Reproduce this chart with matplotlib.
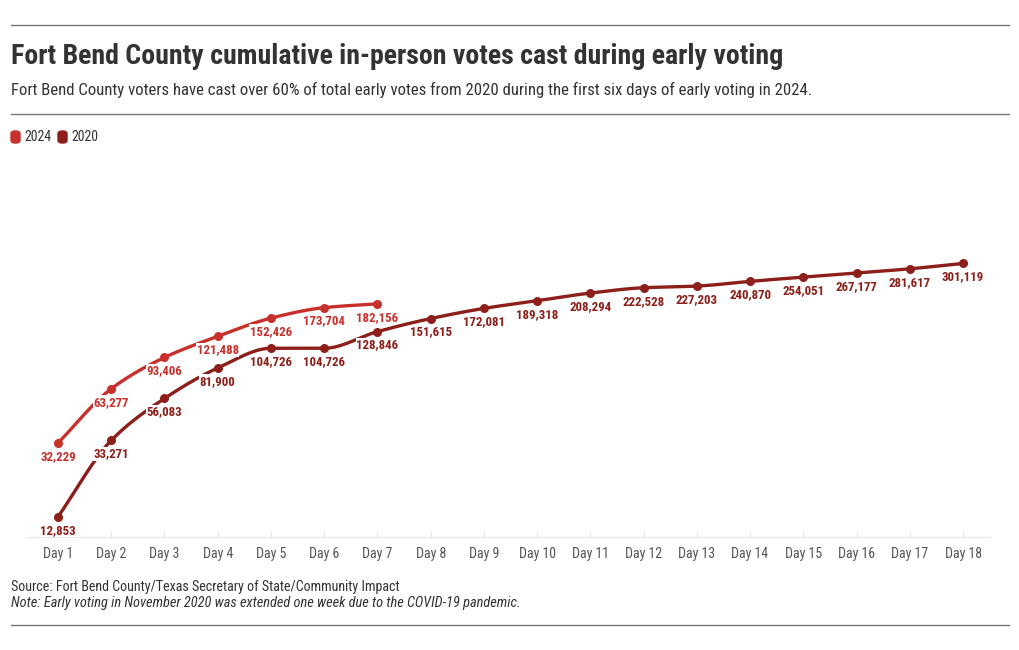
import matplotlib
matplotlib.use('Agg')
import matplotlib.pyplot as plt
from matplotlib import font_manager
from matplotlib.patches import FancyBboxPatch
import numpy as np

days_2024 = [1, 2, 3, 4, 5, 6, 7]
votes_2024 = [32229, 63277, 93406, 121488, 152426, 173704, 182156]
days_2020 = list(range(1, 19))
votes_2020 = [12853, 33271, 56083, 81900, 104726, 104726, 128846, 151615, 172081,
              189318, 208294, 222528, 227203, 240870, 254051, 267177, 281617, 301119]
day_labels = ['Day %d' % d for d in days_2020]

c2024 = '#c8302c'
c2020 = '#8c1f1a'

# pick a condensed face if we have one
names = set(f.name for f in font_manager.fontManager.ttflist)
font = 'DejaVu Sans'
for cand in ['Roboto Condensed', 'Liberation Sans Narrow', 'Roboto']:
    if cand in names:
        font = cand
        break
plt.rcParams['font.family'] = [font, 'DejaVu Sans']


def smooth(x, y, n=20):
    # monotone cubic (Fritsch-Carlson) in log space, only for drawing the curve
    x = np.asarray(x, float)
    y = np.log10(np.asarray(y, float))
    h = np.diff(x)
    d = np.diff(y) / h
    m = np.zeros_like(y)
    m[0], m[-1] = d[0], d[-1]
    for i in range(1, len(y) - 1):
        if d[i - 1] * d[i] <= 0:
            m[i] = 0
        else:
            m[i] = 2 / (1 / d[i - 1] + 1 / d[i])
    xs, ys = [], []
    for i in range(len(x) - 1):
        t = np.linspace(0, 1, n)
        h00 = 2 * t**3 - 3 * t**2 + 1
        h10 = t**3 - 2 * t**2 + t
        h01 = -2 * t**3 + 3 * t**2
        h11 = t**3 - t**2
        seg = h00 * y[i] + h10 * h[i] * m[i] + h01 * y[i + 1] + h11 * h[i] * m[i + 1]
        xs.extend(x[i] + t * h[i])
        ys.extend(seg)
    return np.array(xs), 10 ** np.array(ys)


fig = plt.figure(figsize=(10.2, 6.5), dpi=100)
ax = fig.add_axes([27 / 1020, 113 / 650, 963 / 1020, 370 / 650])

for days, votes, col in [(days_2020, votes_2020, c2020), (days_2024, votes_2024, c2024)]:
    sx, sy = smooth(days, votes)
    ax.plot(sx, sy, color=col, lw=2.4, solid_capstyle='round', zorder=2)
    ax.scatter(days, votes, s=30, color=col, zorder=3)
    for d, v in zip(days, votes):
        ax.annotate('{:,}'.format(v), (d, v), xytext=(0, -5), textcoords='offset points',
                    ha='center', va='top', fontsize=9.3, fontweight='bold', color=col,
                    zorder=4,
                    bbox=dict(boxstyle='square,pad=0.05', fc='white', ec='none'))

ax.set_yscale('log')
ax.set_ylim(10000, 1000000)
ax.set_xlim(0.418, 18.507)
ax.set_yticks([])
ax.minorticks_off()
ax.set_yticks([], minor=True)
ax.set_xticks(days_2020)
ax.set_xticklabels(day_labels, fontsize=10, color='#555555')
ax.tick_params(axis='x', direction='in', length=4, color='#e6e6e6', pad=7)
for s in ['left', 'right', 'top']:
    ax.spines[s].set_visible(False)
ax.spines['bottom'].set_color('#e6e6e6')

# header / footer rules
for yy in [25, 114, 625]:
    fig.add_artist(plt.Line2D([11 / 1020, 1009 / 1020], [1 - yy / 650, 1 - yy / 650],
                              color='#777777', lw=1))

fig.text(11 / 1020, 1 - 57 / 650, 'Fort Bend County cumulative in-person votes cast during early voting',
         fontsize=20.1, fontweight='bold', color='#333333', va='center', ha='left')
fig.text(11 / 1020, 1 - 90 / 650,
         'Fort Bend County voters have cast over 60% of total early votes from 2020 during the first six days of early voting in 2024.',
         fontsize=12.05, color='#333333', va='center', ha='left')

# legend swatches
for x0, lab, col in [(11, '2024', c2024), (58, '2020', c2020)]:
    fig.add_artist(FancyBboxPatch((x0 / 1020, 1 - 143 / 650), 9 / 1020, 12 / 650,
                                  boxstyle='round,pad=0,rounding_size=0.004',
                                  transform=fig.transFigure, color=col))
    fig.text((x0 + 13) / 1020, 1 - 137 / 650, lab, fontsize=10, color='#333333',
             va='center', ha='left')

fig.text(11 / 1020, 1 - 587 / 650, 'Source: Fort Bend County/Texas Secretary of State/Community Impact',
         fontsize=10.1, color='#333333', va='center', ha='left')
fig.text(11 / 1020, 1 - 603 / 650, 'Note: Early voting in November 2020 was extended one week due to the COVID-19 pandemic.',
         fontsize=10.4, color='#333333', va='center', ha='left', style='italic')

fig.savefig('out.png', dpi=100)
